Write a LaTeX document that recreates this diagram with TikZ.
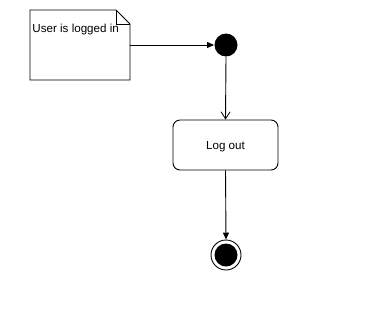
\documentclass[tikz,border=0pt]{standalone}
\usepackage{fontspec}
\setmainfont{Liberation Sans}
\usetikzlibrary{arrows.meta,shapes.misc}
\begin{document}
\begin{tikzpicture}[x=1pt,y=-1pt,
  line width=0.9pt,
  every node/.style={font=\fontsize{11.6}{14}\selectfont},
  filledarrow/.style={-{Triangle[length=7pt,width=6pt]}},
  openarrow/.style={-{Straight Barb[length=7pt,width=9pt,line width=0.8pt]}},
  statebox/.style={draw,rounded corners=7pt,minimum width=105pt,minimum height=50pt,inner sep=0pt}]
\useasboundingbox (0,0) rectangle (371,311);
% note with folded corner
\draw (30,10) -- (116,10) -- (130,24) -- (130,80) -- (30,80) -- cycle;
\draw (116,10) -- (116,24) -- (130,24);
\node[anchor=west,inner sep=0pt] (notetext) at (32,29.5) {User is logged in};
\coordinate (noteout) at (130,45);
% initial state
\node[circle,fill=black,minimum size=23pt,inner sep=0pt] (init) at (226,45) {};
% activity
\node[statebox] (logout) at (225.5,145) {};
\node[anchor=base,inner sep=0pt] (logouttext) at (225.5,149.5) {Log out};
% final state
\node[circle,draw,minimum size=30pt,inner sep=0pt] (final) at (226,255) {};
\node[circle,fill=black,minimum size=23pt,inner sep=0pt] (finalin) at (226,255) {};
% transitions
\draw[filledarrow] (noteout) -- (init.west);
\draw[openarrow] (init.south) -- (logout.north);
\draw[filledarrow] (logout.south) -- (final.north);
\end{tikzpicture}
\end{document}
